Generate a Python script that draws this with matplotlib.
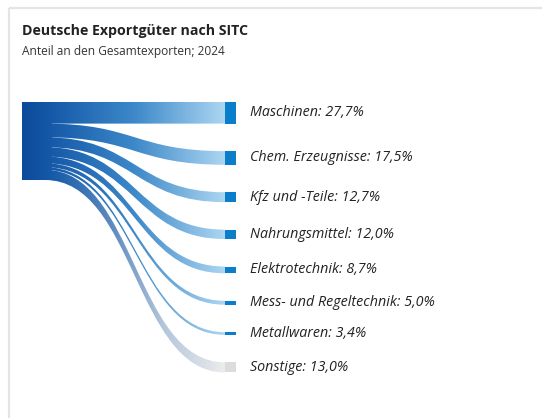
import numpy as np
import matplotlib
matplotlib.use('Agg')
import matplotlib.pyplot as plt
from matplotlib.path import Path
from matplotlib.patches import PathPatch, Rectangle
from matplotlib.colors import LinearSegmentedColormap

# data
categories = ['Maschinen', 'Chem. Erzeugnisse', 'Kfz und -Teile', 'Nahrungsmittel',
              'Elektrotechnik', 'Mess- und Regeltechnik', 'Metallwaren', 'Sonstige']
shares = [27.7, 17.5, 12.7, 12.0, 8.7, 5.0, 3.4, 13.0]

title = 'Deutsche Exportgüter nach SITC'
subtitle = 'Anteil an den Gesamtexporten; 2024'

# layout (pixel units)
W, H = 542, 418
top = 102
scale = 0.78      # px per percent
gap = 27.5        # px between target bars
x_node0, x_node1 = 22, 52
x_link0, x_link1 = 45, 225
bar_w = 11
label_x = 250

blue_cmap = LinearSegmentedColormap.from_list(
    'blue', [(0, '#0c4a9b'), (0.15, '#165aa9'), (0.55, '#3c88c9'), (1, '#acd6f1')])
grey_cmap = LinearSegmentedColormap.from_list(
    'grey', [(0, '#0c4a9b'), (0.15, '#165aa9'), (0.45, '#5f8cc0'), (0.7, '#b4c6dc'), (1, '#ececec')])

fig = plt.figure(figsize=(W / 100, H / 100), dpi=100)
ax = fig.add_axes([0, 0, 1, 1])
ax.set_xlim(0, W)
ax.set_ylim(H, 0)
ax.axis('off')

# card border
ax.plot([9, 9], [8, H], color='#e4e4e4', lw=1.6, solid_capstyle='butt')
ax.plot([9, W], [8, 8], color='#e4e4e4', lw=1.6, solid_capstyle='butt')

fig.text(22 / W, 1 - 31 / H, title, fontsize=10.2, fontweight='bold',
         family='Open Sans', color='#222222', va='center')
fig.text(22 / W, 1 - 51 / H, subtitle, fontsize=8.6,
         family='Open Sans', color='#333333', va='center')

grad = np.linspace(0, 1, 512).reshape(1, -1)
total = sum(shares)
grad_extent = (x_node0, x_link1, top + total * scale + 8 * gap, top - 2)


def band(lt, lb, rt, rb):
    k = 0.5 * (x_link1 - x_link0)
    verts = [(x_link0, lt),
             (x_link0 + k, lt), (x_link1 - k, rt), (x_link1, rt),
             (x_link1, rb),
             (x_link1 - k, rb), (x_link0 + k, lb), (x_link0, lb),
             (x_link0, lt)]
    codes = [Path.MOVETO,
             Path.CURVE4, Path.CURVE4, Path.CURVE4,
             Path.LINETO,
             Path.CURVE4, Path.CURVE4, Path.CURVE4,
             Path.CLOSEPOLY]
    return Path(verts, codes)


def gradient_fill(path, cmap, z):
    patch = PathPatch(path, facecolor='none', edgecolor='none', transform=ax.transData)
    ax.add_patch(patch)
    im = ax.imshow(grad, cmap=cmap, aspect='auto', interpolation='bilinear',
                   extent=grad_extent, zorder=z)
    im.set_clip_path(patch)


y_left = top
y_right = top
for cat, v in zip(categories, shares):
    h = v * scale
    cmap = grey_cmap if cat == 'Sonstige' else blue_cmap
    gradient_fill(band(y_left, y_left + h, y_right, y_right + h), cmap, 2)
    bar_color = '#dcdcdc' if cat == 'Sonstige' else '#0a7dcb'
    ax.add_patch(Rectangle((x_link1, y_right), bar_w, h, facecolor=bar_color,
                           edgecolor='none', zorder=3))
    pct = f'{v:.1f}'.replace('.', ',')
    ax.text(label_x, y_right + h / 2, f'{cat}: {pct}%', fontsize=10.3, style='italic',
            family='Open Sans', color='#222222', va='center', ha='left')
    y_left += h
    y_right += h + gap

# source node
node = Path.unit_rectangle().transformed(
    matplotlib.transforms.Affine2D().scale(x_node1 - x_node0, total * scale).translate(x_node0, top))
gradient_fill(node, blue_cmap, 2.5)

ax.set_xlim(0, W)
ax.set_ylim(H, 0)
fig.savefig('out.png', dpi=100)
